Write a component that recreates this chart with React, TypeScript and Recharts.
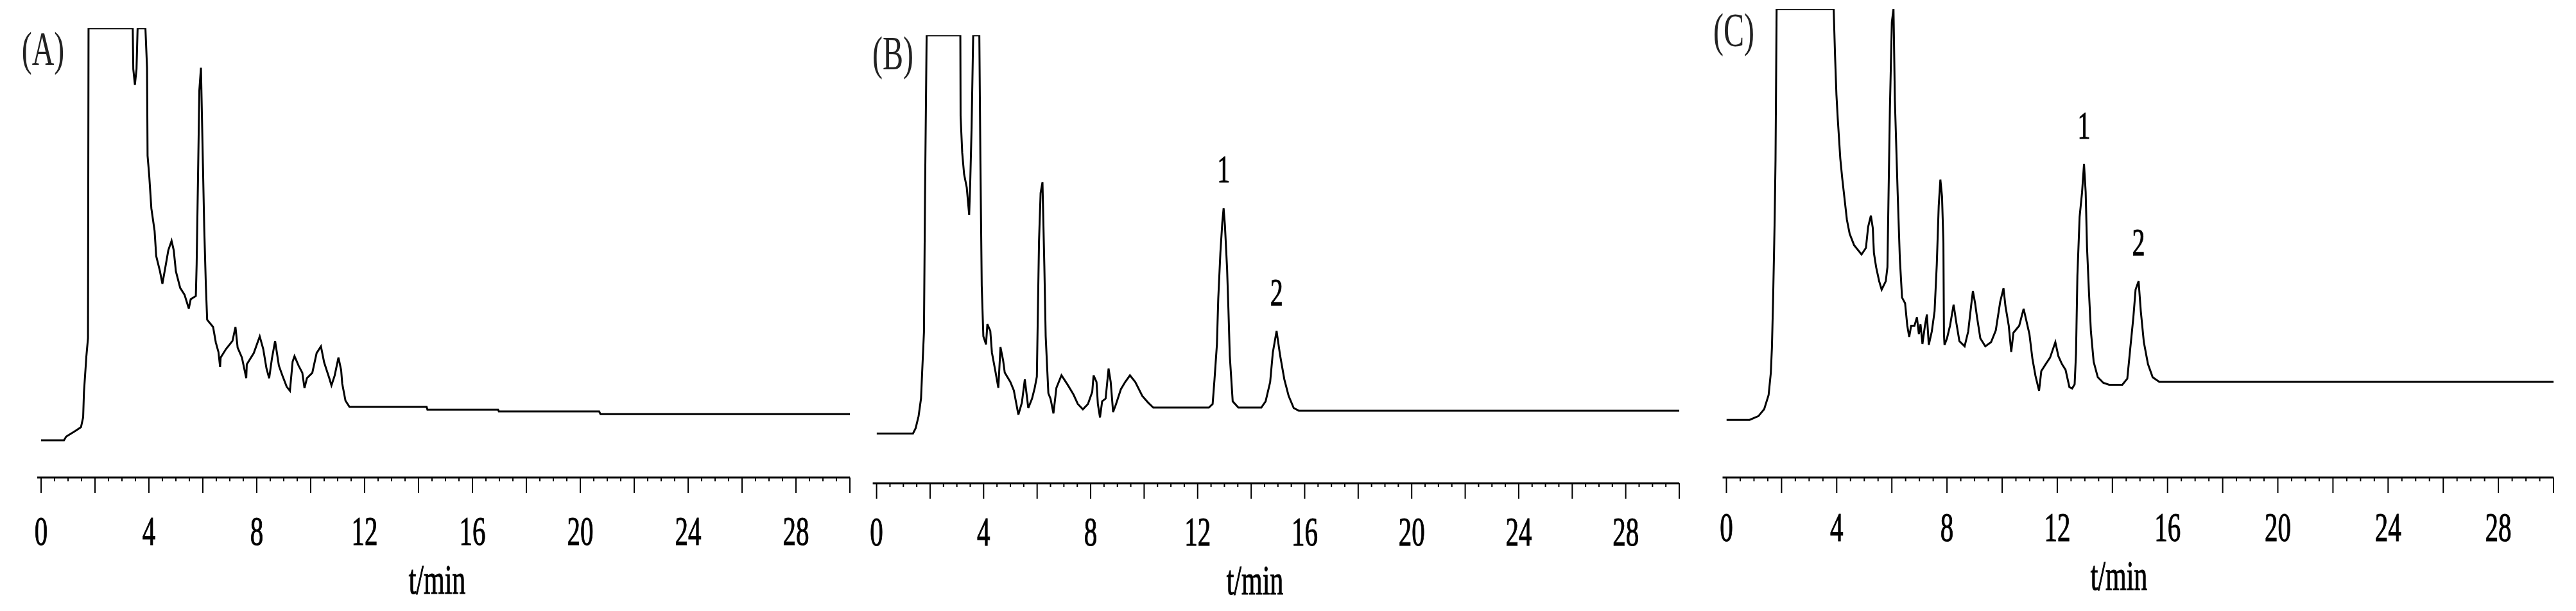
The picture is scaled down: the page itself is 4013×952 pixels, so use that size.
import React from 'react'
import { LineChart, Line, XAxis, YAxis, ReferenceDot } from 'recharts'

// retention time (min) / detector response (% of full scale)
const TIME_A = [
  0, 0.85, 0.93, 1.25, 1.48, 1.56, 1.59, 1.68, 1.74, 1.76,
  3.4, 3.42, 3.48, 3.54, 3.58, 3.87, 3.93, 3.95, 4.01, 4.09,
  4.21, 4.27, 4.41, 4.5, 4.63, 4.72, 4.84, 4.92, 5.0, 5.16,
  5.32, 5.48, 5.55, 5.74, 5.77, 5.82, 5.87, 5.93, 5.97, 6.05,
  6.11, 6.16, 6.38, 6.48, 6.58, 6.64, 6.66, 6.86, 7.1, 7.21,
  7.29, 7.45, 7.61, 7.63, 7.89, 8.11, 8.24, 8.36, 8.46, 8.56,
  8.68, 8.82, 8.95, 9.11, 9.23, 9.33, 9.4, 9.55, 9.69, 9.77,
  9.86, 10.06, 10.22, 10.38, 10.5, 10.69, 10.77, 10.89, 11.03, 11.13,
  11.17, 11.29, 11.44, 14.3, 14.33, 16.95, 16.98, 20.7, 20.75, 30,
]
const SIGNAL_A = [
  8.3, 8.3, 9.1, 10.3, 11.2, 13.4, 19, 27, 31, 100,
  100, 90.9, 87.4, 90.9, 100, 100, 91.2, 71.6, 67.3, 59.9,
  54.9, 49.3, 45.9, 43.1, 47.5, 50.6, 52.7, 50.6, 45.9, 42.2,
  40.7, 37.6, 39.7, 40.4, 47.5, 66.4, 86.2, 91.2, 79.4, 55.9,
  43.1, 35.1, 33.5, 30.1, 27.9, 24.6, 26.7, 28.6, 30.4, 33.5,
  28.9, 26.7, 22.1, 25.2, 27.7, 31.4, 28.6, 24.3, 22.1, 26.4,
  30.4, 24.9, 22.7, 20.2, 19.3, 25.8, 27.0, 24.9, 23.3, 19.9,
  22.1, 23.3, 27.7, 29.2, 25.6, 22.1, 20.5, 22.7, 26.7, 23.9,
  20.9, 17.1, 15.7, 15.7, 15.1, 15.1, 14.7, 14.7, 14.1, 14.1,
]

const TIME_B = [
  0, 1.36, 1.46, 1.57, 1.66, 1.7, 1.77, 1.81, 1.87, 3.13,
  3.14, 3.2, 3.27, 3.37, 3.46, 3.5, 3.55, 3.61, 3.84, 3.88,
  3.93, 3.99, 4.09, 4.14, 4.25, 4.31, 4.44, 4.55, 4.63, 4.73,
  4.79, 5.0, 5.13, 5.3, 5.43, 5.54, 5.67, 5.81, 5.91, 5.99,
  6.02, 6.07, 6.13, 6.2, 6.27, 6.32, 6.42, 6.5, 6.61, 6.72,
  6.91, 7.15, 7.36, 7.52, 7.71, 7.9, 8.06, 8.11, 8.22, 8.27,
  8.35, 8.43, 8.56, 8.67, 8.75, 8.84, 8.95, 9.13, 9.29, 9.47,
  9.67, 9.93, 10.15, 10.34, 12.42, 12.56, 12.63, 12.72, 12.77, 12.85,
  12.92, 12.97, 13.02, 13.1, 13.15, 13.2, 13.31, 13.52, 14.38, 14.54,
  14.71, 14.81, 14.95, 15.08, 15.24, 15.4, 15.59, 15.78, 30,
]
const SIGNAL_B = [
  11.1, 11.1, 12.3, 15.0, 18.9, 24.4, 33.7, 64.2, 100, 100,
  81.9, 73.8, 69.0, 66.0, 59.9, 67.2, 79.2, 100, 100, 72.0,
  44.0, 32.8, 31.0, 35.5, 34.0, 29.2, 25.0, 21.3, 30.4, 27.4,
  24.7, 22.6, 20.7, 15.3, 18.0, 23.2, 16.8, 18.9, 21.3, 23.8,
  35.2, 53.9, 64.8, 67.2, 48.5, 32.8, 20.1, 18.9, 15.6, 21.3,
  24.1, 21.9, 19.8, 17.7, 16.5, 17.7, 20.4, 24.1, 22.6, 17.7,
  14.7, 18.3, 18.9, 25.6, 22.6, 15.9, 17.7, 21.0, 22.6, 24.1,
  22.6, 19.5, 18.0, 16.9, 16.9, 17.7, 23.2, 31.0, 41.2, 51.5,
  58.1, 61.4, 57.5, 47.9, 38.8, 28.6, 18.3, 16.9, 16.9, 18.3,
  22.6, 29.2, 34.0, 28.6, 23.2, 19.5, 16.8, 16.2, 16.2,
]

const TIME_C = [
  0, 0.84, 1.16, 1.37, 1.53, 1.61, 1.65, 1.69, 1.75, 1.78,
  1.82, 3.89, 3.94, 3.99, 4.04, 4.13, 4.2, 4.28, 4.37, 4.47,
  4.63, 4.9, 5.06, 5.14, 5.24, 5.31, 5.35, 5.43, 5.54, 5.63,
  5.78, 5.84, 5.88, 5.93, 6.0, 6.06, 6.11, 6.21, 6.29, 6.37,
  6.48, 6.56, 6.63, 6.7, 6.82, 6.91, 6.98, 7.04, 7.11, 7.2,
  7.27, 7.34, 7.45, 7.55, 7.63, 7.7, 7.76, 7.82, 7.87, 7.89,
  7.91, 8.0, 8.11, 8.24, 8.34, 8.45, 8.64, 8.77, 8.88, 8.94,
  9.02, 9.09, 9.21, 9.39, 9.6, 9.77, 9.93, 10.05, 10.12, 10.24,
  10.33, 10.41, 10.62, 10.78, 10.87, 10.99, 11.1, 11.21, 11.34, 11.42,
  11.58, 11.74, 11.93, 12.04, 12.17, 12.3, 12.44, 12.54, 12.63, 12.68,
  12.73, 12.81, 12.9, 12.97, 13.03, 13.08, 13.15, 13.22, 13.32, 13.47,
  13.67, 13.88, 14.36, 14.54, 14.65, 14.76, 14.84, 14.95, 15.03, 15.14,
  15.29, 15.46, 15.7, 30,
]
const SIGNAL_C = [
  12.3, 12.3, 13.1, 14.6, 17.6, 22.3, 27.7, 37.2, 55.0, 67.5,
  100, 100, 90.0, 81.7, 76.4, 68.1, 63.9, 59.7, 55.0, 52.0,
  49.6, 47.6, 49.0, 53.5, 55.9, 53.2, 47.9, 44.9, 41.9, 40.1,
  41.9, 44.9, 60.3, 78.8, 97.2, 100, 80.5, 60.9, 46.7, 38.4,
  37.2, 32.4, 30.0, 32.4, 32.4, 34.2, 30.6, 32.7, 28.5, 32.4,
  34.8, 28.3, 31.2, 35.5, 45.5, 58.0, 63.6, 60.0, 50.2, 30.6,
  28.3, 29.7, 32.4, 36.9, 33.0, 29.1, 28.0, 31.2, 36.9, 39.8,
  37.2, 34.2, 29.7, 28.0, 28.9, 31.4, 37.5, 40.4, 36.6, 32.4,
  26.8, 30.9, 32.4, 36.0, 33.7, 30.6, 25.3, 21.7, 18.5, 22.7,
  24.2, 25.6, 28.9, 25.9, 24.2, 23.0, 19.3, 19.0, 19.9, 26.5,
  43.1, 55.6, 60.9, 66.9, 60.9, 49.0, 39.5, 31.2, 24.7, 21.4,
  20.2, 19.8, 19.8, 21.1, 27.7, 34.2, 40.1, 41.9, 35.5, 28.9,
  24.2, 21.4, 20.4, 20.4,
]

const PEAK_NAMES = ['1', '2']
const PEAK_TIMES = [12.97, 14.95]

const LABEL_TICKS = [0, 4, 8, 12, 16, 20, 24, 28]
const AXIS_TICKS = Array.from({ length: 61 }, (_, i) => i / 2)

const FONT = '"Liberation Serif", "Times New Roman", serif'
const STRETCH = 1.55 // the source figure is stretched vertically
const XAXIS_H = 150
const PAD = 6

const PANELS = [
  {
    letter: '(A)', time: TIME_A, signal: SIGNAL_A, peaks: false,
    left: 0, width: 1340, x0: 64, x30: 1324, top: 44, axisY: 744,
    tickBase: 105, titleX: 681, titleBase: 925, letterX: 67, letterBase: 101,
  },
  {
    letter: '(B)', time: TIME_B, signal: SIGNAL_B, peaks: true,
    left: 1340, width: 1320, x0: 1365.6, x30: 2616, top: 55, axisY: 753,
    tickBase: 97, titleX: 1955, titleBase: 926, letterX: 1391, letterBase: 108,
  },
  {
    letter: '(C)', time: TIME_C, signal: SIGNAL_C, peaks: true,
    left: 2660, width: 1353, x0: 2689.5, x30: 3978, top: 14, axisY: 744,
    tickBase: 99, titleX: 3301, titleBase: 919, letterX: 2701, letterBase: 72,
  },
]

const textStyle = {
  fontFamily: FONT,
  fill: '#000',
  stroke: '#000',
  strokeWidth: 0.7,
}

function AxisTick(props: any) {
  const { x, y, payload, base } = props
  const value = payload.value
  const major = value % 2 === 0
  return (
    <g>
      <line x1={x} x2={x} y1={y} y2={y + (major ? 24 : 6)} stroke="#000" strokeWidth={2} />
      {LABEL_TICKS.includes(value) && (
        <text
          transform={`translate(${x},${y + base}) scale(1,${STRETCH})`}
          textAnchor="middle"
          fontSize={41}
          style={textStyle}
        >
          {value}
        </text>
      )}
    </g>
  )
}

function peakPoint(time: number[], signal: number[], t: number) {
  let best = -1
  time.forEach((tt, i) => {
    if (Math.abs(tt - t) < 0.3 && (best < 0 || signal[i] > signal[best])) best = i
  })
  return { t: time[best], v: signal[best] }
}

function Chromatogram({ p }: { p: (typeof PANELS)[number] }) {
  const data = p.time.map((t, i) => ({ t, v: p.signal[i] }))
  return (
    <div style={{ position: 'absolute', left: p.left, top: 0 }}>
      <LineChart
        width={p.width}
        height={952}
        data={data}
        margin={{
          top: p.top,
          bottom: 952 - p.axisY - XAXIS_H,
          left: p.x0 - PAD - p.left,
          right: p.left + p.width - p.x30,
        }}
      >
        <XAxis
          dataKey="t"
          type="number"
          domain={[0, 30]}
          ticks={AXIS_TICKS}
          interval={0}
          allowDataOverflow
          padding={{ left: PAD, right: 0 }}
          height={XAXIS_H}
          tickLine={false}
          tickSize={0}
          tickMargin={0}
          axisLine={{ stroke: '#000', strokeWidth: 2.8 }}
          tick={(props: any) => <AxisTick {...props} base={p.tickBase} />}
          label={{
            content: () => (
              <text
                transform={`translate(${p.titleX - p.left},${p.titleBase}) scale(1,${STRETCH})`}
                textAnchor="middle"
                fontSize={42}
                style={textStyle}
              >
                t/min
              </text>
            ),
          }}
        />
        <YAxis hide width={0} domain={[0, 100]} allowDataOverflow />
        <Line
          type="linear"
          dataKey="v"
          stroke="#000"
          strokeWidth={3}
          dot={false}
          isAnimationActive={false}
        />
        {p.peaks &&
          PEAK_TIMES.map((pt, i) => {
            const pk = peakPoint(p.time, p.signal, pt)
            return (
              <ReferenceDot
                key={PEAK_NAMES[i]}
                x={pk.t}
                y={pk.v}
                r={0}
                fill="none"
                stroke="none"
                label={(lp: any) => (
                  <text
                    transform={`translate(${lp.viewBox.x},${lp.viewBox.y - 40}) scale(1,${STRETCH})`}
                    textAnchor="middle"
                    fontSize={40}
                    style={textStyle}
                  >
                    {PEAK_NAMES[i]}
                  </text>
                )}
              />
            )
          })}
      </LineChart>
    </div>
  )
}

export default function App() {
  return (
    <div
      style={{
        position: 'absolute',
        left: 0,
        top: 0,
        width: 4013,
        height: 952,
        background: '#fff',
        overflow: 'hidden',
      }}
    >
      {PANELS.map((p) => (
        <Chromatogram key={p.letter} p={p} />
      ))}
      <svg
        width={4013}
        height={952}
        style={{ position: 'absolute', left: 0, top: 0, pointerEvents: 'none' }}
      >
        {PANELS.map((p) => (
          <text
            key={p.letter}
            transform={`translate(${p.letterX},${p.letterBase}) scale(1,${STRETCH})`}
            textAnchor="middle"
            fontFamily={FONT}
            fontSize={48}
            fill="#222"
          >
            {p.letter}
          </text>
        ))}
      </svg>
    </div>
  )
}
